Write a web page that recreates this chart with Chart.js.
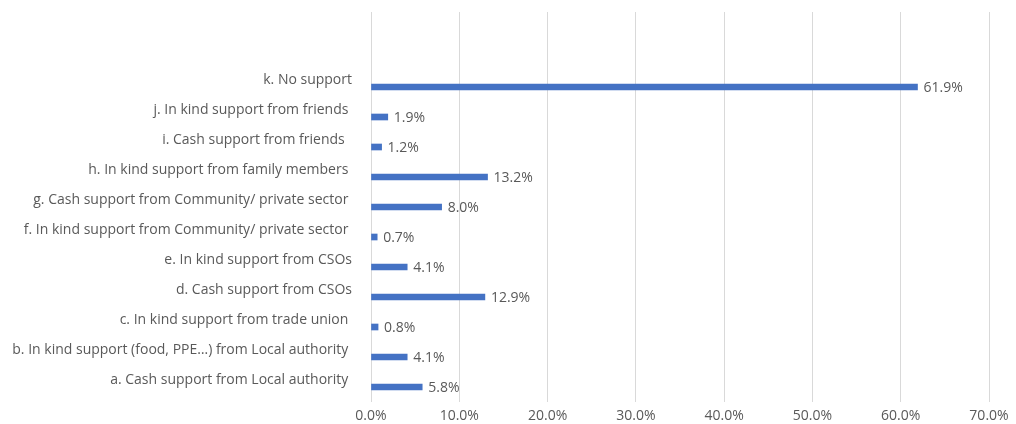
<!DOCTYPE html>
<html lang="en">
  <head>
    <meta charset="UTF-8" />
    <title>Support received</title>
    <script src="https://cdn.jsdelivr.net/npm/chart.js"></script>
    <style>
      html,
      body {
        margin: 0;
        padding: 0;
        background-color: #ffffff;
      }

      .chart {
        position: relative;
        width: 1016px;
        height: 424px;
      }
    </style>
  </head>
  <body>
    <div class="chart">
      <canvas id="supportChart"></canvas>
    </div>
    <script>
      // two empty slots on top leave the blank band above "k."
      const categories = [
        "",
        "",
        "k. No support",
        "j. In kind support from friends ",
        "i. Cash support from friends  ",
        "h. In kind support from family members ",
        "g. Cash support from Community/ private sector ",
        "f. In kind support from Community/ private sector ",
        "e. In kind support from CSOs",
        "d. Cash support from CSOs",
        "c. In kind support from trade union ",
        "b. In kind support (food, PPE…) from Local authority ",
        "a. Cash support from Local authority ",
      ];
      const shares = [null, null, 61.9, 1.9, 1.2, 13.2, 8.0, 0.7, 4.1, 12.9, 0.8, 4.1, 5.8];
      const xTicks = [0, 10, 20, 30, 40, 50, 60, 70];

      const textColor = "#595959";
      const fontFamily = "'Open Sans', 'Noto Sans', sans-serif";

      // value label at the end of each bar
      const barValues = {
        id: "barValues",
        afterDatasetsDraw(chart) {
          const ctx = chart.ctx;
          const meta = chart.getDatasetMeta(0);
          ctx.save();
          ctx.font = "14px " + fontFamily;
          ctx.fillStyle = textColor;
          ctx.textAlign = "left";
          ctx.textBaseline = "middle";
          meta.data.forEach((bar, i) => {
            const v = shares[i];
            if (v === null) return;
            ctx.fillText(v.toFixed(1) + "%", bar.x + 6, bar.y + 1);
          });
          ctx.restore();
        },
      };

      new Chart(document.getElementById("supportChart"), {
        type: "bar",
        data: {
          labels: categories,
          datasets: [
            {
              data: shares,
              backgroundColor: "#4472C4",
              borderWidth: 0,
              barThickness: 6,
            },
          ],
        },
        options: {
          indexAxis: "y",
          responsive: true,
          maintainAspectRatio: false,
          animation: false,
          layout: {
            padding: { top: 12, right: 27, bottom: 0, left: 0 },
          },
          scales: {
            x: {
              min: 0,
              max: 70,
              afterBuildTicks: (scale) => {
                scale.ticks = xTicks.map((v) => ({ value: v }));
              },
              afterFit: (scale) => {
                scale.height = 22;
              },
              ticks: {
                color: textColor,
                font: { family: fontFamily, size: 14 },
                padding: 6,
                callback: (v) => Number(v).toFixed(1) + "%",
              },
              grid: {
                color: "#d9d9d9",
                drawTicks: false,
              },
              border: { display: false },
            },
            y: {
              afterFit: (scale) => {
                scale.width = 371;
                scale.paddingTop = 0;
                scale.paddingBottom = 0;
              },
              ticks: {
                color: textColor,
                font: { family: fontFamily, size: 14 },
                padding: 19,
                labelOffset: -7,
                autoSkip: false,
              },
              grid: { display: false, drawTicks: false },
              border: { display: false },
            },
          },
          plugins: {
            legend: { display: false },
            tooltip: { enabled: false },
          },
        },
        plugins: [barValues],
      });
    </script>
  </body>
</html>
